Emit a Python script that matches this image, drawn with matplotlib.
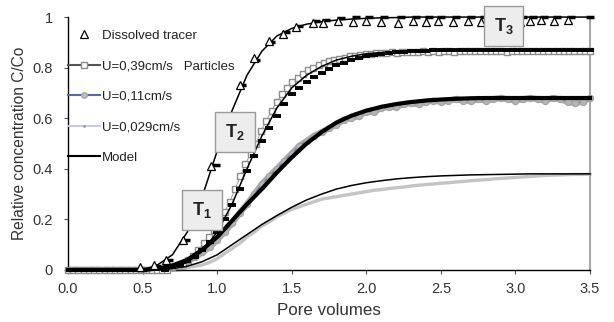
import numpy as np
import matplotlib
matplotlib.use("Agg")
import matplotlib.pyplot as plt
from matplotlib.lines import Line2D

plt.rcParams['font.family'] = ['Liberation Sans', 'DejaVu Sans']
plt.rcParams['mathtext.fontset'] = 'custom'
plt.rcParams['mathtext.rm'] = 'Liberation Sans'
plt.rcParams['mathtext.bf'] = 'Liberation Sans:bold'

# ---- data ----
# dissolved tracer (triangles) and the dark dashes next to them
x_tracer = [0.48, 0.58, 0.66, 0.77, 0.86, 0.96, 1.06, 1.15, 1.25, 1.35, 1.44, 1.53,
            1.64, 1.71, 1.81, 1.91, 2.00, 2.10, 2.21, 2.31, 2.40, 2.48, 2.58, 2.68,
            2.77, 2.87, 2.96, 3.03, 3.10, 3.17, 3.26, 3.35]
y_tracer = [0.01, 0.02, 0.04, 0.12, 0.25, 0.41, 0.58, 0.73, 0.84, 0.905, 0.935, 0.96,
            0.975, 0.975, 0.985, 0.98, 0.985, 0.98, 0.975, 0.985, 0.98, 0.985, 0.98, 0.985,
            0.98, 0.985, 0.985, 0.98, 0.985, 0.99, 0.985, 0.99]
x_tracer_rep = [0.50, 0.60, 0.68, 0.79, 0.88, 0.99, 1.08, 1.17, 1.26, 1.36, 1.46, 1.55,
                1.66, 1.73, 1.83, 1.93, 2.02, 2.12, 2.23, 2.33, 2.42, 2.50, 2.60, 2.70,
                2.79, 2.89, 2.98, 3.05, 3.12, 3.19, 3.28, 3.37, 3.50]
y_tracer_rep = [0.0, 0.015, 0.04, 0.12, 0.26, 0.415, 0.58, 0.73, 0.83, 0.90, 0.94, 0.965,
                0.985, 0.99, 0.995, 1.0, 1.0, 1.0, 1.0, 1.0, 1.0, 1.0, 1.0, 1.0,
                1.0, 1.0, 1.0, 1.0, 1.0, 1.0, 1.0, 1.0, 1.0]

# U = 0.39 cm/s particles (squares), pore volume step 0.035
x_u39 = np.round(np.arange(0, 3.5001, 0.035), 3)
y_u39 = [0]*20 + [0.01, 0.015, 0.025, 0.04, 0.055, 0.08, 0.105, 0.13, 0.16, 0.19,
                  0.23, 0.27, 0.32, 0.37, 0.42, 0.46, 0.50, 0.55, 0.59, 0.63,
                  0.665, 0.695, 0.72, 0.745, 0.76, 0.775, 0.79, 0.80, 0.81, 0.82,
                  0.825, 0.83, 0.835, 0.84, 0.845, 0.848, 0.85, 0.852, 0.855, 0.856,
                  0.857, 0.858, 0.86, 0.858, 0.862, 0.86, 0.863, 0.861, 0.864, 0.862,
                  0.865, 0.863, 0.864, 0.866, 0.863, 0.865, 0.864, 0.866, 0.864, 0.865,
                  0.867, 0.864, 0.866, 0.865, 0.863, 0.866, 0.865, 0.867, 0.864, 0.866,
                  0.865, 0.867, 0.865, 0.864, 0.866, 0.865, 0.867, 0.865, 0.866, 0.864,
                  0.866]
# dashes along U=0.39 curve (replicate)
x_u39_rep = np.round(np.arange(0.65, 3.5001, 0.05), 3)
y_u39_rep = [0.0, 0.01, 0.02, 0.035, 0.05, 0.08, 0.11, 0.15, 0.20, 0.255,
             0.32, 0.39, 0.45, 0.51, 0.56, 0.61, 0.655, 0.695, 0.72, 0.745,
             0.765, 0.78, 0.795, 0.81, 0.82, 0.83, 0.838, 0.845, 0.85, 0.855,
             0.858, 0.861, 0.863, 0.865, 0.866, 0.867, 0.868, 0.868, 0.869, 0.869,
             0.87, 0.87, 0.87, 0.87, 0.87, 0.87, 0.87, 0.87, 0.87, 0.87,
             0.87, 0.87, 0.87, 0.87, 0.87, 0.87, 0.87, 0.87]

# U = 0.11 and U = 0.029 cm/s particles, pore volume step 0.05
x_part = np.round(np.arange(0, 3.5001, 0.05), 3)
y_u11 = [0]*13 + [0.005, 0.01, 0.02, 0.035, 0.05, 0.07, 0.09, 0.12, 0.15, 0.185,
                  0.225, 0.26, 0.30, 0.34, 0.37, 0.40, 0.43, 0.46, 0.49, 0.51,
                  0.53, 0.545, 0.56, 0.575, 0.595, 0.60, 0.61, 0.625, 0.625, 0.64,
                  0.645, 0.645, 0.655, 0.66, 0.655, 0.665, 0.67, 0.665, 0.67, 0.675,
                  0.67, 0.668, 0.675, 0.67, 0.675, 0.68, 0.675, 0.67, 0.675, 0.68,
                  0.675, 0.67, 0.68, 0.675, 0.665, 0.66, 0.665, 0.68]
y_u029 = [0]*16 + [0.01, 0.015, 0.02, 0.03, 0.045, 0.065, 0.085, 0.105, 0.13, 0.15,
                   0.175, 0.19, 0.21, 0.225, 0.24, 0.25, 0.26, 0.27, 0.28, 0.285,
                   0.29, 0.295, 0.30, 0.305, 0.31, 0.315, 0.318, 0.322, 0.325, 0.328,
                   0.332, 0.335, 0.338, 0.34, 0.343, 0.345, 0.348, 0.35, 0.353, 0.355,
                   0.357, 0.36, 0.362, 0.364, 0.366, 0.368, 0.37, 0.372, 0.374, 0.375,
                   0.376, 0.377, 0.378, 0.378, 0.379]

# model curves, pore volume step 0.1
x_model = np.round(np.arange(0, 3.5001, 0.1), 2)
m_tracer = [0]*6 + [0.02, 0.06, 0.15, 0.29, 0.47, 0.63, 0.77, 0.865, 0.925, 0.955,
                    0.972, 0.982, 0.988, 0.992, 0.995, 0.997, 0.998] + [1.0]*13
m_u39 = [0]*7 + [0.008, 0.03, 0.075, 0.15, 0.26, 0.40, 0.53, 0.64, 0.72, 0.77,
                 0.805, 0.83, 0.845, 0.855, 0.86, 0.863, 0.865, 0.867, 0.868] + [0.87]*10
m_u11 = [0]*6 + [0.005, 0.018, 0.04, 0.08, 0.13, 0.195, 0.26, 0.32, 0.385, 0.445,
                 0.50, 0.545, 0.583, 0.61, 0.63, 0.645, 0.656, 0.664, 0.67, 0.674,
                 0.677, 0.679] + [0.68]*8
m_u029 = [0]*7 + [0.005, 0.015, 0.033, 0.06, 0.10, 0.14, 0.18, 0.215, 0.248, 0.277,
                  0.30, 0.32, 0.334, 0.345, 0.353, 0.36, 0.365, 0.369, 0.372, 0.374,
                  0.376, 0.377, 0.378, 0.379] + [0.38]*5

xticks = [0.0, 0.5, 1.0, 1.5, 2.0, 2.5, 3.0, 3.5]
yticks = [0, 0.2, 0.4, 0.6, 0.8, 1.0]
ytick_labels = ['0', '0.2', '0.4', '0.6', '0.8', '1']

# ---- plot ----
fig = plt.figure(figsize=(6.14, 3.22), dpi=100)
ax = fig.add_axes([0.1107, 0.1615, 0.8503, 0.7855])

# particles
ax.plot(x_part, y_u029, color='#c4c4c4', lw=2.4, zorder=2, clip_on=False)
ax.plot(x_part, y_u11, color='#ababab', lw=4.5, solid_capstyle='round', zorder=2, clip_on=False)
ax.plot(x_part, y_u11, color='#5a6aa8', lw=0.7, marker='o', ms=4.5, mfc='#b4b4b4',
        mec='#a4a4a4', mew=0.8, zorder=2, clip_on=False)
ax.plot(x_u39, y_u39, color='#909090', lw=0.6, marker='s', ms=5, mfc='white',
        mec='#8c8c8c', mew=1, zorder=3, clip_on=False)
ax.plot(x_u39_rep, y_u39_rep, ls='none', marker='_', ms=6, mew=2.8, color='black',
        zorder=4, clip_on=False)

# tracer
ax.plot(x_tracer_rep, y_tracer_rep, ls='none', marker='_', ms=5.5, mew=2.5, color='black',
        zorder=4, clip_on=False)
ax.plot(x_tracer, y_tracer, ls='none', marker='^', ms=6, mfc='white', mec='black', mew=0.9,
        zorder=5, clip_on=False)

# models
ax.plot(x_model, m_tracer, color='black', lw=1.1, zorder=4, clip_on=False)
ax.plot(x_model, m_u39, color='black', lw=1.1, zorder=4, clip_on=False)
ax.plot(x_model, m_u11, color='black', lw=3.0, zorder=4, clip_on=False)
ax.plot(x_model, m_u029, color='black', lw=1.1, zorder=4, clip_on=False)

# T labels
box = dict(boxstyle='square,pad=0.55', fc='#ededed', ec='#9a9a9a', lw=1)
for lab, px, py in [(r'$\mathbf{T_1}$', 0.90, 0.237), (r'$\mathbf{T_2}$', 1.12, 0.545),
                    (r'$\mathbf{T_3}$', 2.92, 0.964)]:
    ax.text(px, py, lab, fontsize=13, ha='center', va='center', color='#222222',
            bbox=box, zorder=10)

ax.set_xlim(0, 3.5)
ax.set_ylim(0, 1)
ax.set_xticks(xticks)
ax.set_xticklabels([f'{v:.1f}' for v in xticks])
ax.set_yticks(yticks)
ax.set_yticklabels(ytick_labels)
ax.tick_params(labelsize=10.5, labelcolor='#333333', length=3, width=0.8, color='#555555')
ax.tick_params(axis='y', pad=8)
ax.tick_params(axis='x', pad=6)

ax.spines['top'].set_visible(False)
ax.spines['right'].set_color('#a8a8a8')
ax.spines['right'].set_linewidth(1.5)
ax.spines['left'].set_linewidth(1)
ax.spines['bottom'].set_linewidth(1)

ax.set_xlabel('Pore volumes', fontsize=12.2, color='#333333', labelpad=5)
ax.set_ylabel('Relative concentration C/Co', fontsize=11.2, color='#333333', labelpad=4)

handles = [
    Line2D([], [], ls='none', marker='^', ms=6, mfc='white', mec='black', mew=0.9),
    Line2D([], [], color='#555555', lw=1.5, marker='s', ms=5, mfc='white', mec='#8c8c8c'),
    Line2D([], [], color='#5a6aa8', lw=1.5, marker='o', ms=4, mfc='#c0c0c0', mec='#a8a8a8'),
    Line2D([], [], color='#c8cce0', lw=1.5, marker='.', ms=2, mfc='#999999', mec='#999999'),
    Line2D([], [], color='black', lw=1.5),
]
labels = ['Dissolved tracer', 'U=0,39cm/s   Particles', 'U=0,11cm/s', 'U=0,029cm/s', 'Model']
leg = ax.legend(handles, labels, loc='upper left', bbox_to_anchor=(0.0, 0.95),
                frameon=False, fontsize=9.5, handlelength=2.4, handletextpad=0.2,
                labelspacing=1.38, borderaxespad=0, borderpad=0)
for t in leg.get_texts():
    t.set_color('#222222')

fig.savefig('out.png', dpi=100)
